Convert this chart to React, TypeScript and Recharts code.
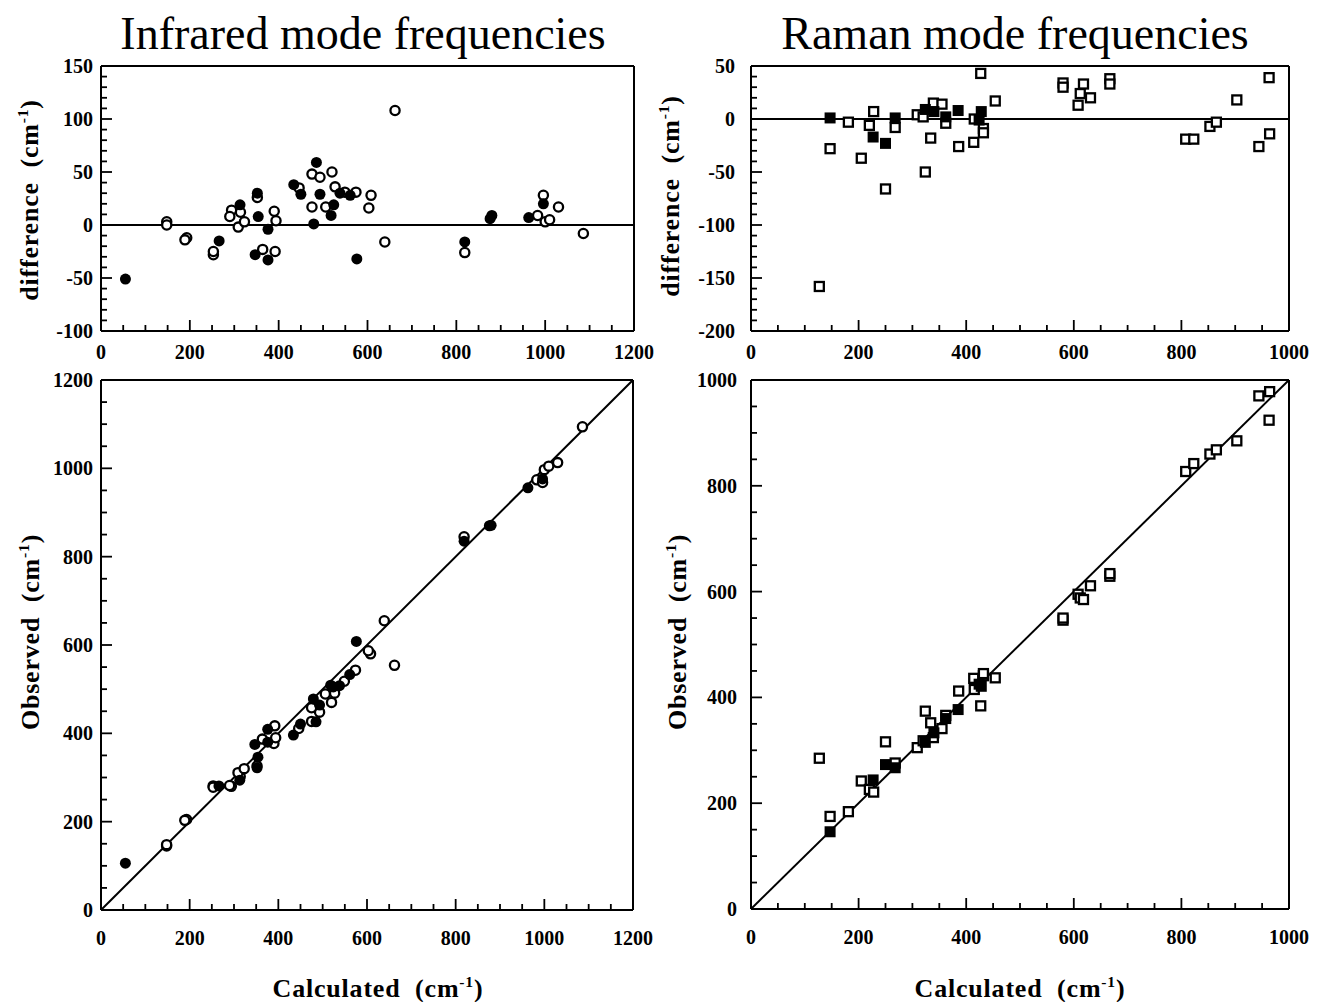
import React from 'react';
import { ReferenceLine, Scatter, ScatterChart, XAxis, YAxis } from 'recharts';

// infrared modes: calculated frequency and (calculated - observed), cm^-1
const irOpenCalc = [148, 148, 193, 189, 253, 253, 294, 290, 314, 309, 323, 352, 390, 394, 364, 392, 446, 475, 493, 475, 520, 527, 506, 549, 574, 608, 603, 662, 639, 819, 983, 996, 1000, 1010, 1030, 1086];
const irOpenDiff = [3, 0, -12, -14, -28, -25, 14, 8, 12, -2, 3, 26, 13, 4, -23, -25, 35, 48, 45, 17, 50, 36, 17, 31, 31, 28, 16, 108, -16, -26, 9, 28, 3, 5, 17, -8];
const irFilledCalc = [55, 266, 313, 352, 354, 376, 347, 376, 434, 450, 485, 493, 479, 524, 518, 538, 561, 576, 819, 876, 880, 963, 996];
const irFilledDiff = [-51, -15, 19, 30, 8, -4, -28, -33, 38, 29, 59, 29, 1, 19, 9, 30, 28, -32, -16, 6, 9, 7, 20];

// raman modes
const ramanOpenCalc = [127, 147, 181, 205, 220, 228, 250, 268, 309, 320, 324, 334, 339, 355, 362, 386, 414, 415, 427, 432, 432, 454, 580, 580, 608, 612, 618, 631, 667, 667, 808, 823, 853, 865, 903, 944, 963, 964];
const ramanOpenDiff = [-158, -28, -3, -37, -6, 7, -66, -8, 4, 2, -50, -18, 15, 14, -4, -26, -22, 0, 43, -9, -13, 17, 34, 30, 13, 24, 33, 20, 38, 33, -19, -19, -7, -3, 18, -26, 39, -14];
const ramanFilledCalc = [147, 227, 250, 268, 324, 340, 362, 385, 424, 428];
const ramanFilledDiff = [1, -17, -23, 1, 9, 7, 2, 8, -1, 7];

const irXTicks = [0, 200, 400, 600, 800, 1000, 1200];
const irDiffTicks = [-100, -50, 0, 50, 100, 150];
const ramanXTicks = [0, 200, 400, 600, 800, 1000];
const ramanDiffTicks = [-200, -150, -100, -50, 0, 50];
const irObsTicks = [0, 200, 400, 600, 800, 1000, 1200];
const ramanObsTicks = [0, 200, 400, 600, 800, 1000];

// observed = calculated - difference
const rows = (calc: number[], diff: number[]) => calc.map((c, i) => ({ calc: c, diff: diff[i], obs: c - diff[i] }));

const irOpen = rows(irOpenCalc, irOpenDiff);
const irFilled = rows(irFilledCalc, irFilledDiff);
const ramanOpen = rows(ramanOpenCalc, ramanOpenDiff);
const ramanFilled = rows(ramanFilledCalc, ramanFilledDiff);

const font = '"Liberation Serif", "Times New Roman", serif';

function minor(lo: number, hi: number, step: number) {
  const out: number[] = [];
  for (let v = lo; v <= hi + 1e-9; v += step) out.push(v);
  return out;
}

const XTick = ({ x, y, payload, majors, dy }: any) => {
  const isMajor = majors.includes(payload.value);
  return (
    <g>
      <line x1={x} x2={x} y1={y} y2={y - (isMajor ? 11 : 6)} stroke="#000" strokeWidth={1.8} />
      {isMajor && (
        <text x={x} y={y + dy} textAnchor="middle" fontFamily={font} fontWeight="bold" fontSize={20} fill="#000">
          {payload.value}
        </text>
      )}
    </g>
  );
};

const YTick = ({ x, y, payload, majors, dx }: any) => {
  const isMajor = majors.includes(payload.value);
  return (
    <g>
      <line x1={x} x2={x + (isMajor ? 11 : 6)} y1={y} y2={y} stroke="#000" strokeWidth={1.8} />
      {isMajor && (
        <text x={x - dx} y={y + 7} textAnchor="end" fontFamily={font} fontWeight="bold" fontSize={20} fill="#000">
          {payload.value}
        </text>
      )}
    </g>
  );
};

const openCircle = (p: any) => <circle cx={p.cx} cy={p.cy} r={4.6} fill="#fff" stroke="#000" strokeWidth={2.3} />;
const filledCircle = (p: any) => <circle cx={p.cx} cy={p.cy} r={5.5} fill="#000" />;
const openSquare = (p: any) => <rect x={p.cx - 4.5} y={p.cy - 4.5} width={9} height={9} fill="#fff" stroke="#000" strokeWidth={2.3} />;
const filledSquare = (p: any) => <rect x={p.cx - 5.5} y={p.cy - 5.5} width={11} height={11} fill="#000" />;

type PanelProps = {
  left: number;
  top: number;
  plotW: number;
  plotH: number;
  xMax: number;
  xStep: number;
  xMajors: number[];
  yKey: 'diff' | 'obs';
  yMin: number;
  yMax: number;
  yStep: number;
  yMajors: number[];
  open: any[];
  filled: any[];
  openShape: any;
  filledShape: any;
  labelDy: number;
  labelDx: number;
  diagonal?: boolean;
};

const YW = 70;
const M = { top: 10, right: 30, bottom: 0, left: 0 };
const XH = 45;

function Panel(p: PanelProps) {
  const w = YW + p.plotW + M.right;
  const h = M.top + p.plotH + XH;
  return (
    <div style={{ position: 'absolute', left: p.left - YW, top: p.top - M.top }}>
      <ScatterChart width={w} height={h} margin={M}>
        <XAxis
          type="number"
          dataKey="calc"
          domain={[0, p.xMax]}
          ticks={minor(0, p.xMax, p.xStep)}
          interval={0}
          allowDataOverflow
          height={XH}
          tickSize={0}
          tickMargin={0}
          axisLine={{ stroke: '#000', strokeWidth: 2 }}
          tickLine={false}
          tick={(t: any) => <XTick {...t} majors={p.xMajors} dy={p.labelDy} />}
        />
        <YAxis
          type="number"
          dataKey={p.yKey}
          domain={[p.yMin, p.yMax]}
          ticks={minor(p.yMin, p.yMax, p.yStep)}
          interval={0}
          allowDataOverflow
          width={YW}
          tickSize={0}
          tickMargin={0}
          axisLine={{ stroke: '#000', strokeWidth: 2 }}
          tickLine={false}
          tick={(t: any) => <YTick {...t} majors={p.yMajors} dx={p.labelDx} />}
        />
        <ReferenceLine y={p.yMax} stroke="#000" strokeWidth={2} />
        <ReferenceLine x={p.xMax} stroke="#000" strokeWidth={2} />
        {p.diagonal ? (
          <ReferenceLine segment={[{ x: 0, y: 0 }, { x: p.xMax, y: p.yMax }]} stroke="#000" strokeWidth={2} />
        ) : (
          <ReferenceLine y={0} stroke="#000" strokeWidth={2} />
        )}
        <Scatter data={p.open} shape={p.openShape} isAnimationActive={false} />
        <Scatter data={p.filled} shape={p.filledShape} isAnimationActive={false} />
      </ScatterChart>
    </div>
  );
}

const labelStyle = {
  position: 'absolute' as const,
  whiteSpace: 'nowrap' as const,
  fontFamily: font,
  fontWeight: 'bold' as const,
  fontSize: 26,
  letterSpacing: 0.8,
  lineHeight: 1,
};

const unit = (
  <>
    {'\u00a0 '}(cm<sup style={{ fontSize: '0.6em' }}>-1</sup>)
  </>
);

const vLabel = (cx: number, cy: number, text: string) => (
  <div style={{ ...labelStyle, left: cx, top: cy, transform: 'translate(-50%, -50%) rotate(-90deg)' }}>
    {text}
    {unit}
  </div>
);

const hLabel = (cx: number, cy: number) => (
  <div style={{ ...labelStyle, left: cx, top: cy, transform: 'translate(-50%, -50%)' }}>
    Calculated
    {unit}
  </div>
);

const title = (cx: number, text: string) => (
  <div
    style={{
      position: 'absolute',
      left: cx,
      top: 34,
      transform: 'translate(-50%, -50%)',
      whiteSpace: 'nowrap',
      fontFamily: font,
      fontSize: 46,
      lineHeight: 1,
    }}
  >
    {text}
  </div>
);

export default function App() {
  return (
    <div style={{ position: 'absolute', left: 0, top: 0, width: 1317, height: 1002, background: '#fff', overflow: 'hidden' }}>
      {title(363, 'Infrared mode frequencies')}
      {title(1015, 'Raman mode frequencies')}

      <Panel left={101} top={66} plotW={533} plotH={265} xMax={1200} xStep={50} xMajors={irXTicks}
        yKey="diff" yMin={-100} yMax={150} yStep={10} yMajors={irDiffTicks}
        open={irOpen} filled={irFilled} openShape={openCircle} filledShape={filledCircle} labelDy={28} labelDx={8} />
      <Panel left={751} top={66} plotW={538} plotH={265} xMax={1000} xStep={50} xMajors={ramanXTicks}
        yKey="diff" yMin={-200} yMax={50} yStep={10} yMajors={ramanDiffTicks}
        open={ramanOpen} filled={ramanFilled} openShape={openSquare} filledShape={filledSquare} labelDy={28} labelDx={16} />
      <Panel left={101} top={380} plotW={532} plotH={530} xMax={1200} xStep={50} xMajors={irXTicks}
        yKey="obs" yMin={0} yMax={1200} yStep={50} yMajors={irObsTicks}
        open={irOpen} filled={irFilled} openShape={openCircle} filledShape={filledCircle} labelDy={35} labelDx={8} diagonal />
      <Panel left={751} top={380} plotW={538} plotH={529} xMax={1000} xStep={50} xMajors={ramanXTicks}
        yKey="obs" yMin={0} yMax={1000} yStep={50} yMajors={ramanObsTicks}
        open={ramanOpen} filled={ramanFilled} openShape={openSquare} filledShape={filledSquare} labelDy={35} labelDx={14} diagonal />

      {vLabel(29, 200, 'difference')}
      {vLabel(670, 196, 'difference')}
      {vLabel(30, 632, 'Observed')}
      {vLabel(677, 632, 'Observed')}
      {hLabel(378, 988)}
      {hLabel(1020, 988)}
    </div>
  );
}
